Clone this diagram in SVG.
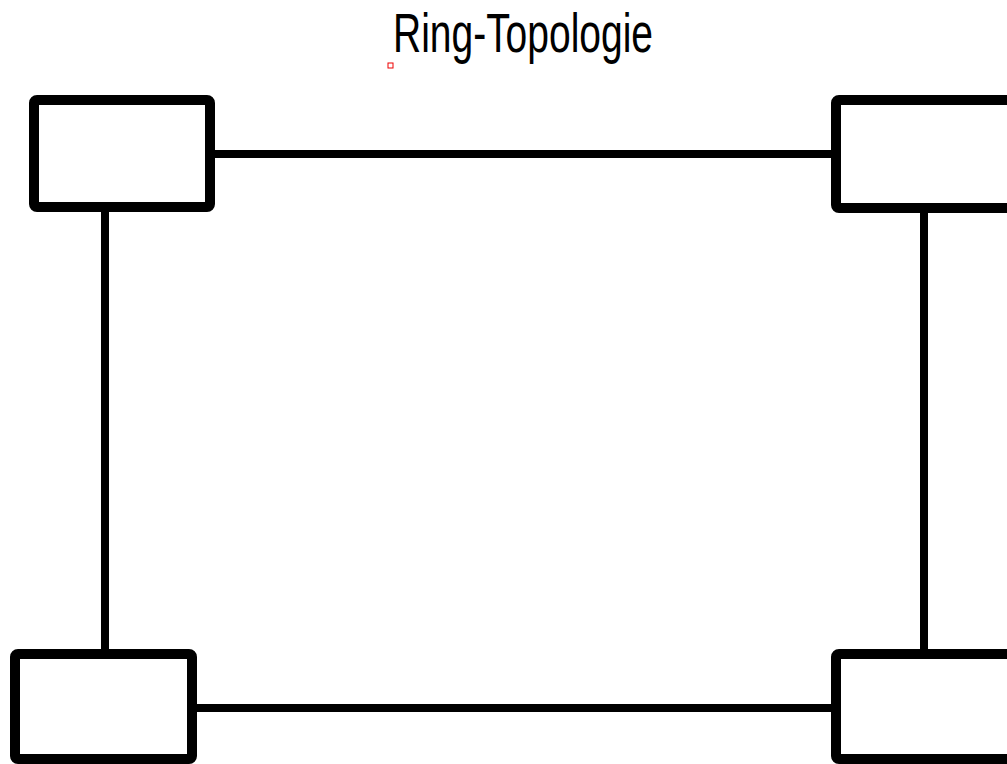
<svg xmlns="http://www.w3.org/2000/svg" width="1007" height="764" viewBox="0 0 1007 764">
<style>
.node rect{fill:#fff;stroke:#000;stroke-width:10;stroke-linejoin:round}
.edge{stroke:#000;stroke-width:8;fill:none}
.title{font-family:"Liberation Sans",Arial,sans-serif;font-size:56px;fill:#000}
</style>
<rect width="1007" height="764" fill="#fff"/>
<text class="title" x="393" y="52" textLength="260" lengthAdjust="spacingAndGlyphs">Ring-Topologie</text>
<rect x="388" y="63" width="5" height="5" fill="none" stroke="#e00" stroke-width="1"/>
<g id="connectors">
<line class="edge" x1="210" y1="154" x2="836" y2="154"/>
<line class="edge" x1="105" y1="207" x2="105" y2="654"/>
<line class="edge" x1="924" y1="207" x2="924" y2="654"/>
<line class="edge" x1="192" y1="708" x2="836" y2="708"/>
</g>
<g id="node-top-left" class="node"><rect x="34" y="100" width="176" height="107" rx="3"/></g>
<g id="node-top-right" class="node"><rect x="836" y="100" width="200" height="108" rx="3"/></g>
<g id="node-bottom-left" class="node"><rect x="15" y="654" width="177" height="105" rx="3"/></g>
<g id="node-bottom-right" class="node"><rect x="836" y="654" width="200" height="105" rx="3"/></g>
</svg>
